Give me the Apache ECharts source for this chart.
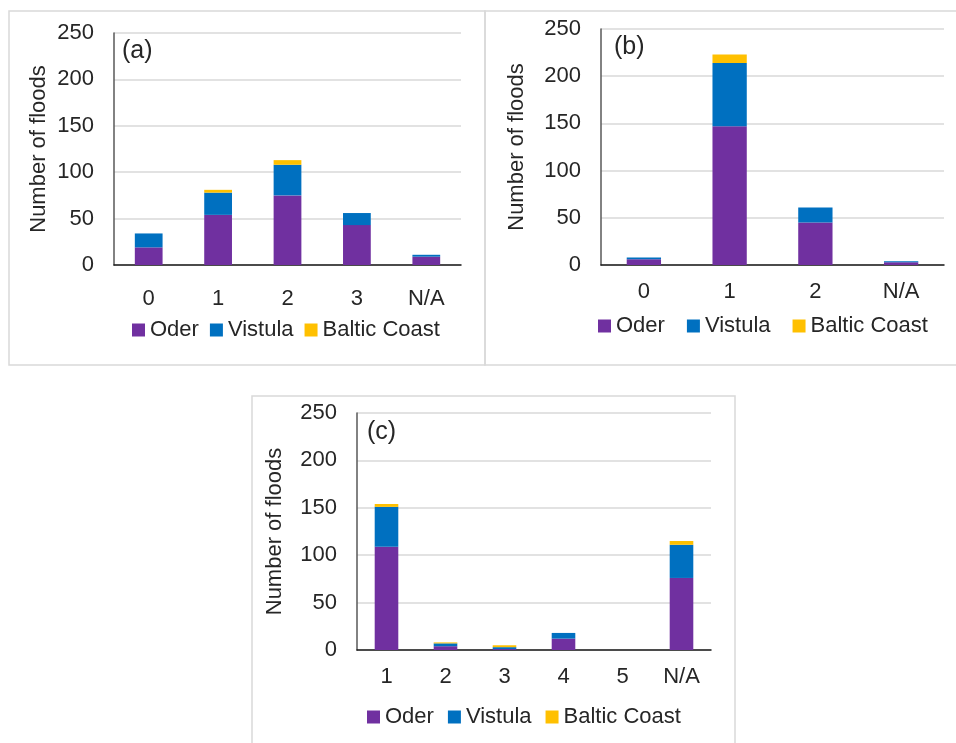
<!DOCTYPE html>
<html>
<head>
<meta charset="utf-8">
<script src="https://cdn.jsdelivr.net/npm/echarts@6/dist/echarts.min.js"></script>
<style>html,body{margin:0;padding:0;background:#fff}#c{width:956px;height:743px}</style>
</head>
<body>
<div id="c"></div>
<script>
const seriesNames = ['Oder', 'Vistula', 'Baltic Coast'];
const yTicks = [0, 50, 100, 150, 200, 250];

const catsA = ['0', '1', '2', '3', 'N/A'];
const oderA = [19, 54, 75, 43, 9];
const vistulaA = [15, 24, 33, 13, 2];
const balticA = [0, 3, 5, 0, 0];

const catsB = ['0', '1', '2', 'N/A'];
const oderB = [6, 147, 45, 3];
const vistulaB = [2, 67, 16, 1];
const balticB = [0, 9, 0, 0];

const catsC = ['1', '2', '3', '4', '5', 'N/A'];
const oderC = [109, 4, 1, 12, 0, 76];
const vistulaC = [42, 3, 2, 6, 0, 35];
const balticC = [3, 1, 2, 0, 0, 4];

const colors = ['#7030A0', '#0070C0', '#FFC000'];
const FONT = 'Liberation Sans, Arial, sans-serif';
const FS = 22;
const textColor = '#262626';

const grids = [
  {left: 114, top: 33, width: 347, height: 232},
  {left: 601, top: 29, width: 343, height: 236},
  {left: 357, top: 413, width: 354, height: 237}
];
const xMargins = [23, 16, 16];
const nameGaps = [64, 73, 71];
const cats = [catsA, catsB, catsC];
const data = [[oderA, vistulaA, balticA], [oderB, vistulaB, balticB], [oderC, vistulaC, balticC]];

const xAxes = cats.map((c, i) => ({
  type: 'category', gridIndex: i, data: c,
  axisLine: {lineStyle: {color: '#1a1a1a', width: 1.5}},
  axisTick: {show: false},
  axisLabel: {fontSize: FS, fontFamily: FONT, color: textColor, margin: xMargins[i]}
}));
const yAxes = cats.map((c, i) => ({
  type: 'value', gridIndex: i, min: yTicks[0], max: yTicks[yTicks.length - 1], interval: 50,
  name: 'Number of floods', nameLocation: 'middle', nameGap: nameGaps[i],
  nameTextStyle: {fontSize: FS, fontFamily: FONT, color: textColor},
  axisLine: {show: true, lineStyle: {color: '#595959', width: 1.5}},
  axisTick: {show: false},
  splitLine: {lineStyle: {color: '#d9d9d9', width: 1.5}},
  axisLabel: {fontSize: FS, fontFamily: FONT, color: textColor, margin: 20}
}));

const series = [];
data.forEach((panel, i) => {
  panel.forEach((vals, j) => {
    series.push({
      name: seriesNames[j], type: 'bar', stack: 'p' + i,
      xAxisIndex: i, yAxisIndex: i, data: vals, barWidth: '40%',
      itemStyle: {color: colors[j]}, emphasis: {disabled: true}
    });
  });
});

const legendPos = [{left: 127, top: 314, gap: 11}, {left: 593, top: 310, gap: 22}, {left: 362, top: 701, gap: 14}];
const legends = legendPos.map(p => ({
  left: p.left, top: p.top, data: seriesNames, icon: 'rect',
  itemWidth: 13, itemHeight: 13, itemGap: p.gap,
  textStyle: {fontSize: FS, fontFamily: FONT, color: textColor}
}));

const panelLabels = [
  {text: '(a)', x: 122, y: 39},
  {text: '(b)', x: 614, y: 35},
  {text: '(c)', x: 367, y: 420}
];

const graphic = [
  {type: 'rect', shape: {x: 9, y: 11, width: 476, height: 354}, style: {fill: 'none', stroke: '#d9d9d9', lineWidth: 1.5}, silent: true},
  {type: 'rect', shape: {x: 485, y: 11, width: 480, height: 354}, style: {fill: 'none', stroke: '#d9d9d9', lineWidth: 1.5}, silent: true},
  {type: 'rect', shape: {x: 252, y: 396, width: 483, height: 360}, style: {fill: 'none', stroke: '#d9d9d9', lineWidth: 1.5}, silent: true}
].concat(panelLabels.map(l => ({
  type: 'text', x: l.x, y: l.y, silent: true,
  style: {text: l.text, fontSize: 25, fontFamily: FONT, fill: textColor}
})));

const chart = echarts.init(document.getElementById('c'));
chart.setOption({
  animation: false,
  backgroundColor: '#fff',
  grid: grids,
  xAxis: xAxes,
  yAxis: yAxes,
  legend: legends,
  series: series,
  graphic: graphic
});
</script>
</body>
</html>
